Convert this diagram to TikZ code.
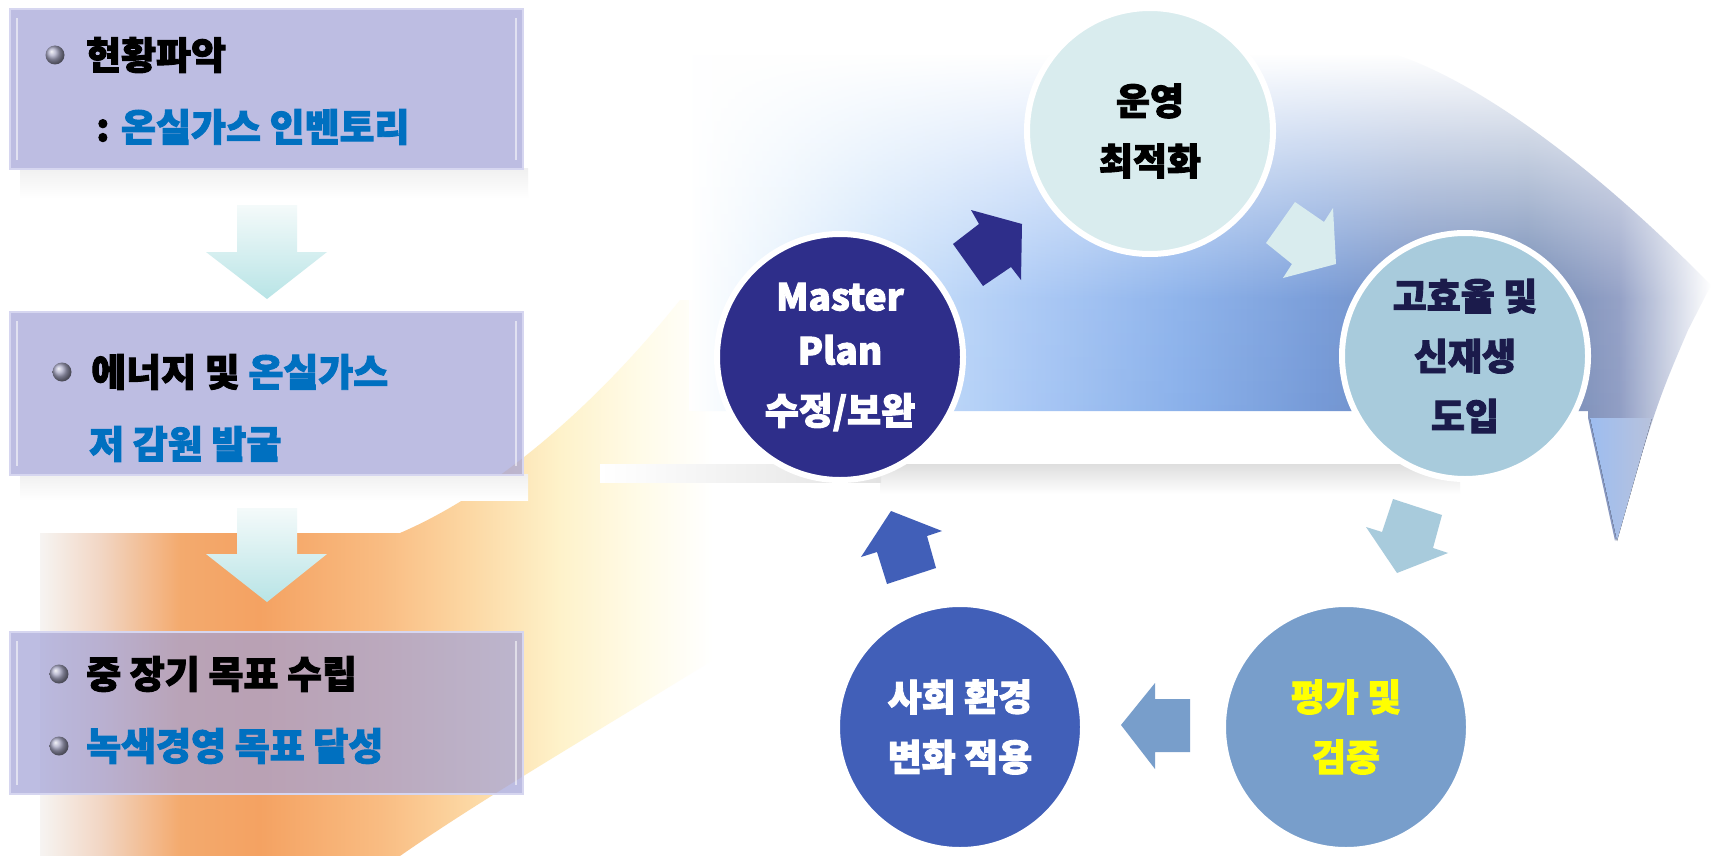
\documentclass[tikz,border=0pt]{standalone}
\usepackage{fontspec}
\setmainfont{Noto Sans CJK KR}[BoldFeatures={FakeBold=2.5}]
\usetikzlibrary{fadings}

\definecolor{navyc}{HTML}{2E2E8A}
\definecolor{opc}{HTML}{D9ECEE}
\definecolor{hic}{HTML}{A8CBDC}
\definecolor{evc}{HTML}{789ECB}
\definecolor{soc}{HTML}{415FB8}
\definecolor{hitext}{HTML}{1B1B4B}
\definecolor{bluetxt}{HTML}{0070C0}
\definecolor{boxc}{HTML}{A1A1D7}
\definecolor{boxline}{HTML}{D6D6F0}
\definecolor{yel}{HTML}{FFFF00}

\definecolor{orA}{HTML}{F6F4F2}
\definecolor{orB}{HTML}{F2D6C4}
\definecolor{orC}{HTML}{F3AA6E}
\definecolor{orD}{HTML}{F4A262}
\definecolor{orE}{HTML}{F9BC82}
\definecolor{orF}{HTML}{FCD8A4}
\definecolor{orG}{HTML}{FEF2CA}
\definecolor{orH}{HTML}{FFFBE8}

\definecolor{blA}{HTML}{E6F2FD}
\definecolor{blB}{HTML}{C8E0FA}
\definecolor{blC}{HTML}{A6C6F5}
\definecolor{blD}{HTML}{86AEEA}
\definecolor{blE}{HTML}{7096D6}
\definecolor{blF}{HTML}{6A86BC}
\definecolor{blG}{HTML}{6680AE}
\definecolor{blH}{HTML}{8C9AC2}
\definecolor{vA}{HTML}{9DBDF0}
\definecolor{vB}{HTML}{B8C2DC}

\definecolor{arT}{HTML}{F4FAFA}
\definecolor{arM}{HTML}{96B9BD}
\definecolor{arB}{HTML}{B8E4E6}
\definecolor{bulc}{HTML}{A8A8C4}

\pgfdeclarehorizontalshading{orangeh}{100bp}{color(0bp)=(orA); color(25bp)=(orA); color(29.5bp)=(orB); color(35.4bp)=(orC); color(41.3bp)=(orD); color(50.3bp)=(orE); color(57bp)=(orF); color(63.6bp)=(orG); color(69.6bp)=(orH); color(75bp)=(white); color(100bp)=(white)}
\pgfdeclarehorizontalshading{blueh}{100bp}{color(0bp)=(white); color(25bp)=(white); color(29.4bp)=(blA); color(34.3bp)=(blB); color(41.6bp)=(blC); color(49bp)=(blD); color(55.8bp)=(blE); color(60.7bp)=(blF); color(66bp)=(blG); color(70.5bp)=(blH); color(75bp)=(white); color(100bp)=(white)}

\tikzfading[name=bandfade, top color=transparent!100, bottom color=transparent!0, middle color=transparent!8]

\tikzset{
  circ/.style={circle, minimum size=246pt, inner sep=0pt, draw=white, line width=6pt,
    font=\bfseries\fontsize{37}{60}\selectfont, align=center},
  box/.style={draw=boxline, line width=2pt, fill=boxc, fill opacity=0.7, draw opacity=1,
    minimum width=513pt, anchor=north west, inner sep=0pt},
  bevel/.style={white, opacity=0.55, line width=2.5pt},
  bul/.style={circle, minimum size=19pt, inner sep=0pt, ball color=bulc},
  ltxt/.style={anchor=west, inner sep=0pt, font=\bfseries\fontsize{38}{44}\selectfont},
  downarrow/.style={top color=arT, middle color=arM, bottom color=arB, draw=none},
}

\begin{document}
\begin{tikzpicture}[x=1pt,y=-1pt]
\useasboundingbox (0,0) rectangle (1713,856);
\fill[white] (0,0) rectangle (1713,856);

% ---------- background: orange glow ----------
\shade[shading=orangeh]
  (40,533) -- (400,533) .. controls (500,490) and (600,400) .. (680,300)
  -- (713,300) -- (713,660) .. controls (600,730) and (480,800) .. (400,856)
  -- (40,856) -- cycle;
% ---------- background: gray shadow under blue band ----------
\fill[top color=black!13, bottom color=white] (880,464) rectangle (1460,494);
\fill[left color=white, right color=black!11] (600,464) rectangle (881,482);
% ---------- background: blue band with right ribbon ----------
\shade[shading=blueh, path fading=bandfade]
  (690,55) -- (1400,55) .. controls (1500,90) and (1620,190) .. (1713,285)
  -- (1690,330) .. controls (1660,400) .. (1617,541) -- (1590,418) -- (1590,411)
  -- (690,411) -- cycle;
\fill[left color=vA, right color=vB] (1590,418) -- (1617,541) -- (1652,418) -- cycle;

% ---------- left boxes ----------
\fill[top color=black!6, bottom color=white] (20,168) rectangle (528,198);
\fill[top color=black!6, bottom color=white] (20,474) rectangle (528,500);

\node[box, minimum height=160pt] (box1) at (9,8) {};
\node[box, minimum height=163pt] (box2) at (9,311) {};
\node[box, minimum height=162pt] (box3) at (9,631) {};
\foreach \b in {box1,box2,box3}{
  \draw[bevel] ([xshift=8pt,yshift=-10pt]\b.north west) -- ([xshift=8pt,yshift=10pt]\b.south west);
  \draw[bevel] ([xshift=-8pt,yshift=-10pt]\b.north east) -- ([xshift=-8pt,yshift=10pt]\b.south east);
}

% box 1 text
\node[bul] (bu1) at (55,55) {};
\node[ltxt] (t1a) at (86,55) {현황파악};
\node[ltxt] (t1b) at (96,127) {: \textcolor{bluetxt}{온실가스 인벤토리}};
% box 2 text
\node[bul] (bu2) at (62,372) {};
\node[ltxt] (t2a) at (91,372) {에너지 및 \textcolor{bluetxt}{온실가스}};
\node[ltxt, text=bluetxt] (t2b) at (89,444) {저 감원 발굴};
% box 3 text
\node[bul] (bu3) at (59,674) {};
\node[ltxt] (t3a) at (86,674) {중 장기 목표 수립};
\node[bul] (bu4) at (59,746) {};
\node[ltxt, text=bluetxt] (t3b) at (86,746) {녹색경영 목표 달성};

% down arrows
\shade[downarrow] (237,205) -- (297,205) -- (297,252) -- (327,252) -- (267,299) -- (206,252) -- (237,252) -- cycle;
\shade[downarrow] (237,508) -- (297,508) -- (297,554) -- (327,554) -- (267,602) -- (206,554) -- (237,554) -- cycle;

% ---------- cycle circles ----------
\node[circ, fill=navyc, text=white] (mp) at (840,357) {Master\\[-6pt]Plan\\수정/보완};
\node[circ, fill=opc, text=black] (op) at (1150,131) {운영\\최적화};
\node[circ, fill=hic, text=hitext] (hi) at (1465,356) {고효율 및\\신재생\\도입};
\node[circ, fill=evc, text=yel] (ev) at (1346,727) {평가 및\\검증};
\node[circ, fill=soc, text=white] (so) at (960,727) {사회 환경\\변화 적용};

% ---------- block arrows of the cycle ----------
\fill[navyc] (971,210) -- (1022,224) -- (1021,280) -- (1011,267) -- (983,286) -- (953,244) -- (979,224) -- cycle;
\fill[opc] (1295,202) -- (1324,222) -- (1333,208) -- (1336,264) -- (1283,278) -- (1292,264) -- (1266,243) -- cycle;
\fill[hic] (1393,499) -- (1442,515) -- (1433,548) -- (1448,553) -- (1397,573) -- (1366,527) -- (1382,532) -- cycle;
\fill[evc] (1155,683) -- (1155,699) -- (1190,699) -- (1190,752) -- (1155,752) -- (1155,769) -- (1121,725) -- cycle;
\fill[soc] (891,511) -- (942,531) -- (927,536) -- (936,568) -- (887,584) -- (877,552) -- (861,557) -- cycle;
\end{tikzpicture}
\end{document}
